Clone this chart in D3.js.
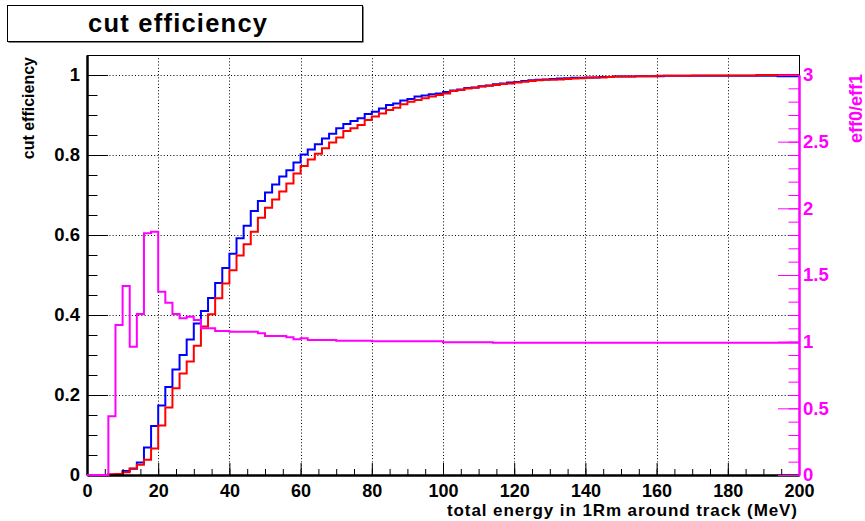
<!DOCTYPE html>
<html>
<head>
<meta charset="utf-8">
<script src="https://cdn.jsdelivr.net/npm/d3@7"></script>
<style>
  html, body { margin: 0; padding: 0; background: #fff; }
  svg { display: block; }
  text { font-family: "Liberation Sans", Arial, Helvetica, sans-serif; font-weight: bold; }
</style>
</head>
<body>
<svg id="chart" width="865" height="521"></svg>
<script>
// ---- data (bins of 2 MeV, 0..200) ----
const binWidth = 2;
const eff0 = [ // blue
  0, 0, 0, 0.0009, 0.0028, 0.010, 0.0155, 0.031, 0.069, 0.1225,
  0.174, 0.220, 0.264, 0.300, 0.339, 0.379, 0.410, 0.4425, 0.480, 0.5175,
  0.553, 0.592, 0.623, 0.660, 0.685, 0.706, 0.726, 0.746, 0.762, 0.781,
  0.801, 0.814, 0.827, 0.841, 0.853, 0.867, 0.8775, 0.885, 0.892, 0.9025,
  0.908, 0.916, 0.925, 0.929, 0.936, 0.940, 0.946, 0.949, 0.952, 0.954,
  0.9575, 0.961, 0.964, 0.9675, 0.969, 0.972, 0.974, 0.977, 0.979, 0.981,
  0.9825, 0.985, 0.987, 0.988, 0.989, 0.990, 0.991, 0.992, 0.993, 0.993,
  0.994, 0.994, 0.995, 0.995, 0.996, 0.996, 0.996, 0.997, 0.997, 0.997,
  0.997, 0.998, 0.998, 0.998, 0.998, 0.998, 0.998, 0.998, 0.998, 0.998,
  0.998, 0.998, 0.998, 0.998, 0.998, 0.998, 0.998, 0.997, 0.997, 0.997
];
const eff1 = [ // red
  0, 0, 0, 0.002, 0.0025, 0.007, 0.016, 0.0255, 0.038, 0.066,
  0.124, 0.169, 0.217, 0.254, 0.284, 0.323, 0.371, 0.402, 0.442, 0.479,
  0.512, 0.549, 0.577, 0.608, 0.643, 0.668, 0.689, 0.709, 0.729, 0.754,
  0.7725, 0.789, 0.803, 0.817, 0.831, 0.844, 0.860, 0.867, 0.875, 0.8875,
  0.896, 0.904, 0.9125, 0.918, 0.927, 0.933, 0.9375, 0.942, 0.946, 0.950,
  0.954, 0.960, 0.9625, 0.966, 0.968, 0.971, 0.973, 0.975, 0.9775, 0.979,
  0.981, 0.983, 0.985, 0.987, 0.988, 0.988, 0.989, 0.990, 0.991, 0.992,
  0.993, 0.994, 0.994, 0.995, 0.996, 0.996, 0.996, 0.997, 0.997, 0.997,
  0.998, 0.998, 0.998, 0.998, 0.998, 0.999, 0.999, 0.999, 0.999, 0.999,
  0.999, 0.999, 0.999, 0.999, 1.000, 1.000, 1.000, 1.000, 1.000, 1.000
];
const ratio = [ // magenta, eff0/eff1
  0, 0, 0, 0.44, 1.125, 1.4175, 0.9625, 1.2075, 1.8125, 1.825,
  1.375, 1.2925, 1.2075, 1.175, 1.1875, 1.1625, 1.100, 1.100, 1.080, 1.080,
  1.075, 1.075, 1.075, 1.075, 1.0625, 1.0425, 1.0425, 1.0425, 1.0325, 1.0175,
  1.025, 1.0125, 1.0125, 1.0125, 1.0125, 1.0075, 1.0075, 1.0075, 1.0075, 1.0075,
  1.0025, 1.0025, 1.0025, 1.0025, 1.0025, 1.0025, 1.0025, 1.0025, 1.0025, 1.0025,
  0.995, 0.995, 0.995, 0.995, 0.995, 0.995, 0.995, 0.992, 0.992, 0.992,
  0.992, 0.992, 0.992, 0.992, 0.992, 0.992, 0.992, 0.992, 0.992, 0.992,
  0.992, 0.992, 0.992, 0.992, 0.992, 0.992, 0.992, 0.992, 0.992, 0.992,
  0.992, 0.992, 0.992, 0.992, 0.992, 0.992, 0.992, 0.992, 0.992, 0.992,
  0.992, 0.992, 0.992, 0.992, 0.992, 0.992, 0.992, 0.992, 0.992, 0.992
];
const xTicks = [0, 20, 40, 60, 80, 100, 120, 140, 160, 180, 200];
const yTicks = [0, 0.2, 0.4, 0.6, 0.8, 1];
const y2Ticks = [0, 0.5, 1, 1.5, 2, 2.5, 3];
const titleText = "cut efficiency";
const xTitle = "total energy in 1Rm around track (MeV)";
const yTitle = "cut efficiency";
const y2Title = "eff0/eff1";

// ---- layout ----
const L = 87, R = 799, T = 55, B = 475;
const svg = d3.select("#chart");
const x = d3.scaleLinear().domain([0, 200]).range([L, R]);
const y = d3.scaleLinear().domain([0, 1.05]).range([B, T]);
const y2 = d3.scaleLinear().domain([0, 3.15]).range([B, T]);
const magenta = "#ff00ff";

// title box
svg.append("rect").attr("x", 8.5).attr("y", 6.5).attr("width", 355).attr("height", 36)
  .attr("fill", "#000");
svg.append("rect").attr("x", 7.5).attr("y", 5.5).attr("width", 355).attr("height", 36)
  .attr("fill", "#fff").attr("stroke", "#000").attr("stroke-width", 1);
svg.append("text").attr("x", 88).attr("y", 32)
  .attr("font-size", 25.5).attr("textLength", 179).attr("lengthAdjust", "spacing")
  .text(titleText);

// grid
const grid = svg.append("g").attr("stroke", "#000").attr("stroke-width", 1)
  .attr("stroke-dasharray", "1,2.2");
grid.selectAll("line.gx").data(xTicks.filter(d => d > 0 && d < 200)).enter().append("line")
  .attr("x1", d => Math.round(x(d)) + 0.5).attr("x2", d => Math.round(x(d)) + 0.5)
  .attr("y1", T).attr("y2", B);
grid.selectAll("line.gy").data(yTicks.filter(d => d > 0)).enter().append("line")
  .attr("y1", d => Math.round(y(d)) + 0.5).attr("y2", d => Math.round(y(d)) + 0.5)
  .attr("x1", L).attr("x2", R);

// frame top/right
svg.append("line").attr("x1", L).attr("x2", R).attr("y1", T + 0.5).attr("y2", T + 0.5)
  .attr("stroke", "#000").attr("stroke-width", 1);
svg.append("line").attr("x1", R + 0.5).attr("x2", R + 0.5).attr("y1", T).attr("y2", B)
  .attr("stroke", "#000").attr("stroke-width", 1);

// histograms
function stepData(vals) {
  const pts = vals.map((v, i) => [i * binWidth, v]);
  pts.push([vals.length * binWidth, vals[vals.length - 1]]);
  return pts;
}
const lineY = d3.line().x(d => x(d[0])).y(d => y(d[1])).curve(d3.curveStepAfter);
const lineY2 = d3.line().x(d => x(d[0])).y(d => y2(d[1])).curve(d3.curveStepAfter);
svg.append("path").attr("d", lineY(stepData(eff0))).attr("fill", "none")
  .attr("stroke", "#0000ff").attr("stroke-width", 2);
svg.append("path").attr("d", lineY(stepData(eff1))).attr("fill", "none")
  .attr("stroke", "#ff0000").attr("stroke-width", 2);

// left axis
const gL = svg.append("g").attr("transform", `translate(${L},0)`);
gL.call(d3.axisLeft(y).tickValues(yTicks).tickFormat(d3.format("~g"))
  .tickSizeInner(-21).tickSizeOuter(0).tickPadding(7));
gL.append("g").call(d3.axisLeft(y).tickValues(d3.range(0, 1.0501, 0.05))
  .tickFormat("").tickSizeInner(-10.5).tickSizeOuter(0));
gL.selectAll(".domain").attr("stroke-width", 2);
gL.selectAll("text").attr("font-size", 18.5).attr("font-family", null).attr("fill", "#000");

// bottom axis
const gB = svg.append("g").attr("transform", `translate(0,${B})`);
gB.call(d3.axisBottom(x).tickValues(xTicks).tickFormat(d3.format("d"))
  .tickSizeInner(-12).tickSizeOuter(0).tickPadding(9));
gB.append("g").call(d3.axisBottom(x).tickValues(d3.range(0, 200.1, 5))
  .tickFormat("").tickSizeInner(-6).tickSizeOuter(0));
gB.selectAll(".domain").attr("stroke-width", 2);
gB.selectAll("text").attr("font-size", 18).attr("font-family", null).attr("fill", "#000");

// ratio histogram
svg.append("path").attr("d", lineY2(stepData(ratio))).attr("fill", "none")
  .attr("stroke", magenta).attr("stroke-width", 2);

// right axis (magenta)
const gR = svg.append("g").attr("transform", `translate(${R},0)`);
const y2a = d3.scaleLinear().domain([0, 3]).range([y2(0), y2(3)]);
gR.call(d3.axisRight(y2a).tickValues(y2Ticks).tickFormat(d3.format("~g"))
  .tickSizeInner(-21).tickSizeOuter(0).tickPadding(4));
gR.append("g").call(d3.axisRight(y2a).tickValues(d3.range(0, 3.001, 0.1))
  .tickFormat("").tickSizeInner(-10.5).tickSizeOuter(0));
gR.selectAll(".domain").attr("stroke", magenta).attr("stroke-width", 2);
gR.selectAll(".tick line").attr("stroke", magenta);
gR.selectAll("text").attr("font-size", 18.5).attr("font-family", null).attr("fill", magenta);

// axis titles
svg.append("text").attr("x", R - 2).attr("y", 516).attr("text-anchor", "end")
  .attr("font-size", 17).attr("textLength", 350).attr("lengthAdjust", "spacing")
  .text(xTitle);
svg.append("text").attr("transform", `translate(34,57) rotate(-90)`)
  .attr("text-anchor", "end").attr("font-size", 16).text(yTitle);
svg.append("text").attr("transform", `translate(862,74) rotate(-90)`)
  .attr("text-anchor", "end").attr("font-size", 18).attr("fill", magenta).text(y2Title);
</script>
</body>
</html>
